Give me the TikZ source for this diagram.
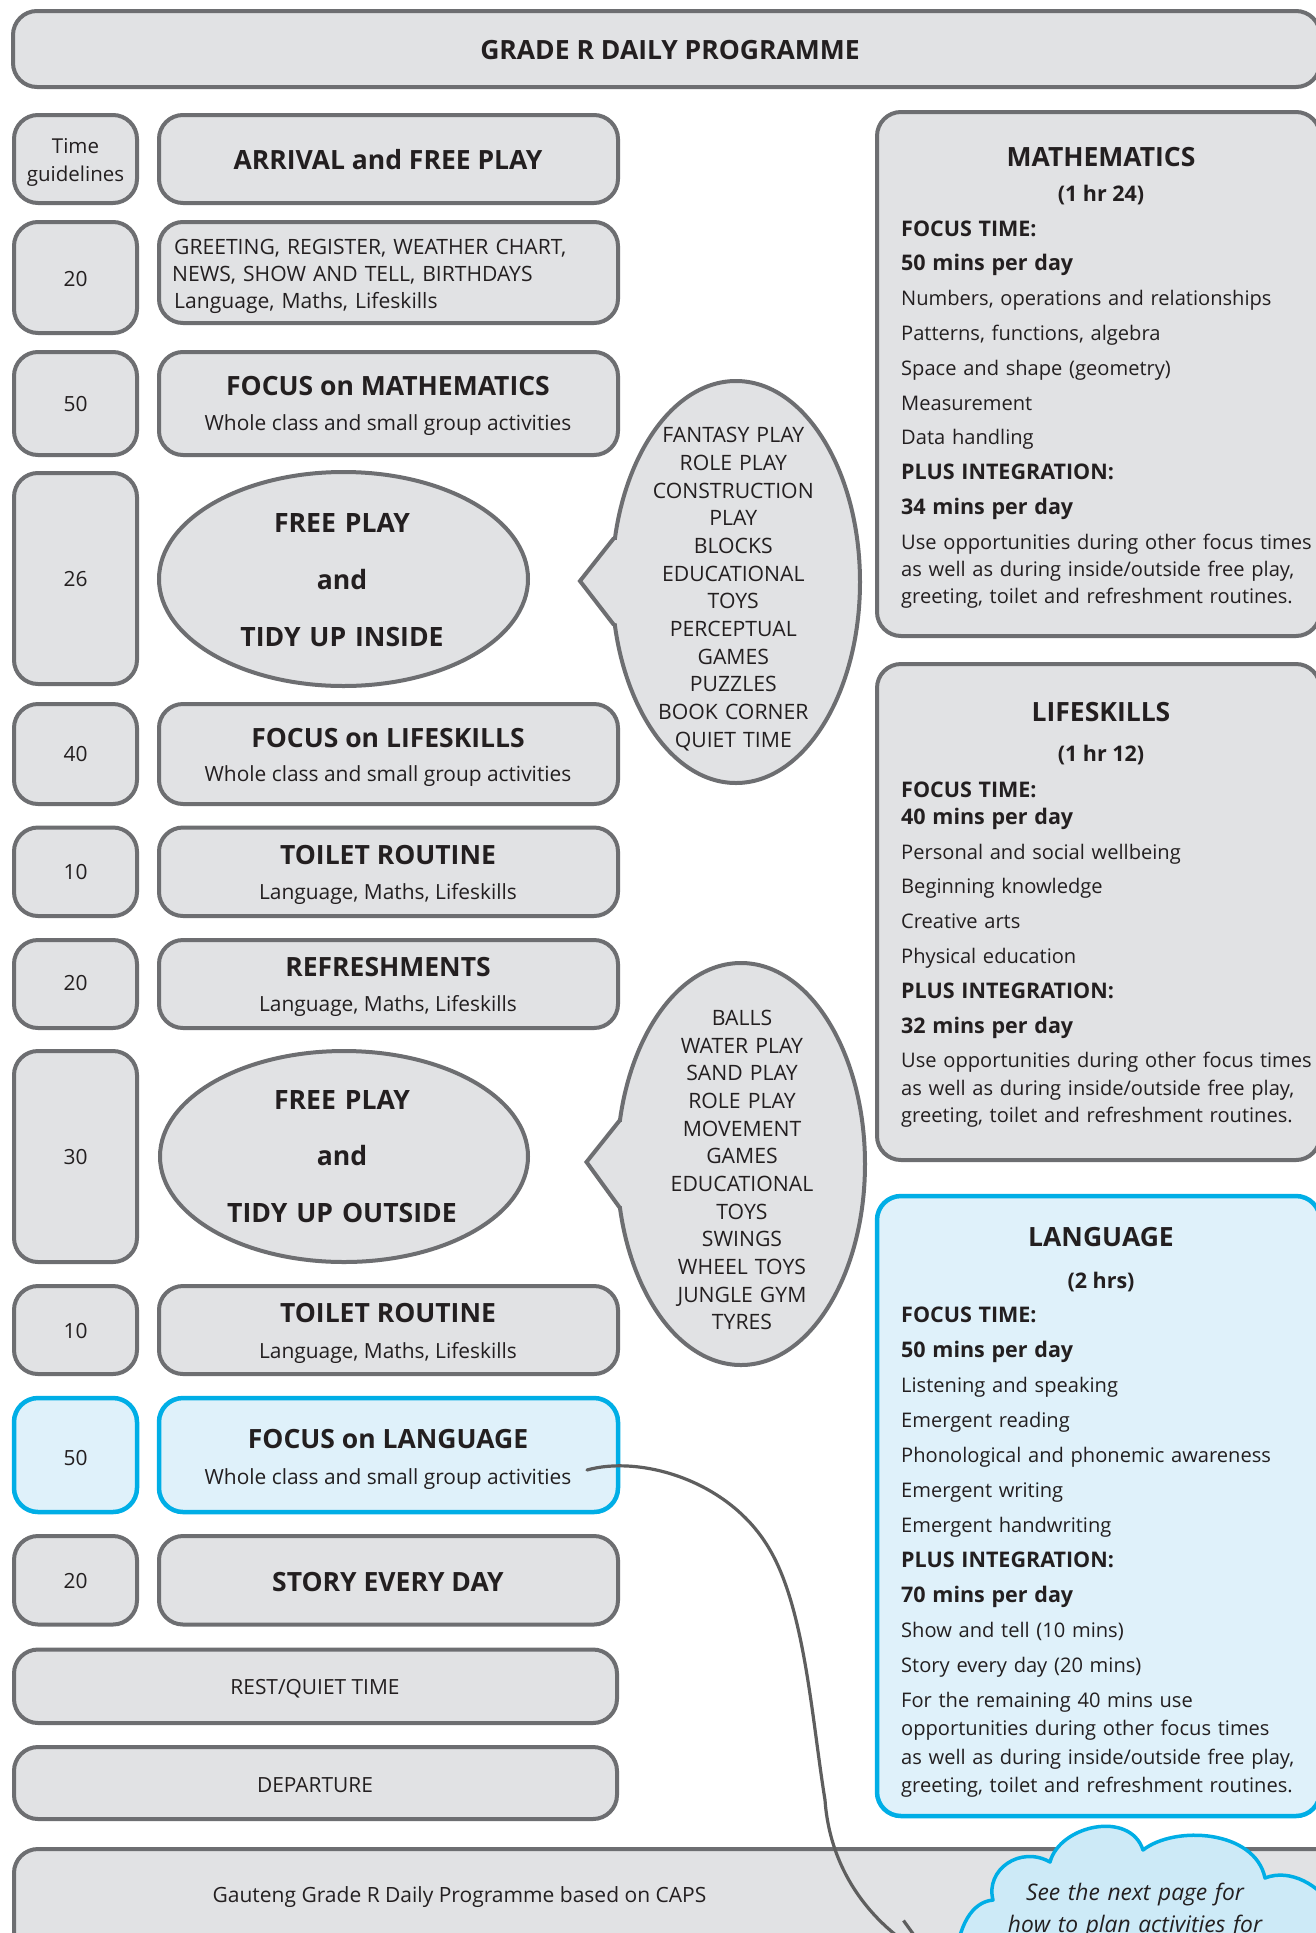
\documentclass[tikz,border=0pt]{standalone}
\usepackage{fontspec}
\setmainfont{Open Sans}
\usetikzlibrary{arrows.meta}
\definecolor{bord}{HTML}{6D6E71}
\definecolor{boxfill}{HTML}{E1E2E4}
\definecolor{ink}{HTML}{231F20}
\definecolor{cyanb}{HTML}{00AEE6}
\definecolor{bluefill}{HTML}{DFF1FA}
\definecolor{cloudfill}{HTML}{CDEAF7}
\definecolor{pencil}{HTML}{5E5E5E}
\newcommand\bh[1]{{\fontsize{21.5}{27.3}\selectfont\bfseries #1}}
\begin{document}
\begin{tikzpicture}[x=1pt,y=-1pt,
  gbox/.style={draw=bord, fill=boxfill, line width=4pt, rounded corners=24pt},
  bbox/.style={draw=cyanb, fill=bluefill, line width=4.5pt, rounded corners=24pt},
  bubble/.style={draw=bord, fill=boxfill, line width=4pt},
  hdtxt/.style={font=\fontsize{26.5}{30}\selectfont\bfseries, text=ink, inner sep=0pt, anchor=base},
  rgtxt/.style={font=\fontsize{20.9}{27}\selectfont, text=ink, inner sep=0pt, anchor=base},
  sbtxt/.style={font=\fontsize{21.5}{26}\selectfont\bfseries, text=ink, inner sep=0pt, anchor=base},
  bodytxt/.style={text=ink, inner sep=0pt, anchor=base west, text width=470pt, align=left},
  listtxt/.style={font=\fontsize{21.2}{27.69}\selectfont, text=ink, inner sep=0pt, anchor=base, text width=240pt, align=center},
  elltxt/.style={font=\fontsize{26.6}{56.8}\selectfont\bfseries, text=ink, inner sep=0pt, anchor=base, text width=340pt, align=center},
]
\useasboundingbox (0,0) rectangle (1316,1933);
\fill[white] (0,0) rectangle (1316,1933);

% title
\draw[gbox] (13,11) rectangle (1320,87);
\node[hdtxt] (title) at (670,59.5) {GRADE R DAILY PROGRAMME};

% row 1
\draw[gbox] (14,115) rectangle (137,203);
\draw[gbox] (159,115) rectangle (618,203);
\node[rgtxt, text width=120pt, align=center, font=\fontsize{20.5}{28.7}\selectfont] (tg) at (75.5,153) {Time\\guidelines};
\node[hdtxt] (arrival) at (388,169) {ARRIVAL and FREE PLAY};

% row 2
\draw[gbox] (14,222) rectangle (137,333);
\draw[gbox] (159,222) rectangle (618,323);
\node[rgtxt] (t2) at (75.5,286.7) {20};
\node[rgtxt, anchor=base west, text width=440pt, align=left, font=\fontsize{21.1}{27}\selectfont] (greet) at (172,254.5) {\hspace*{2pt}GREETING, REGISTER, WEATHER CHART,\\NEWS, SHOW AND TELL, BIRTHDAYS\\\hspace*{2pt}Language, Maths, Lifeskills};

% row 3
\draw[gbox] (14,352) rectangle (137,455);
\draw[gbox] (159,352) rectangle (618,455);
\node[rgtxt] (t3) at (75.5,411.7) {50};
\node[hdtxt] (fmath) at (388,395) {FOCUS on MATHEMATICS};
\node[rgtxt] (fmaths) at (388,430) {Whole class and small group activities};

% row 4
\draw[gbox] (14,473) rectangle (137,684);
\node[rgtxt] (t4) at (75.5,586.5) {26};
\draw[bubble] (343.5,579) ellipse [x radius=184.5pt, y radius=107pt];
\node[elltxt] (inside) at (342,532.7) {FREE PLAY\\and\\TIDY UP INSIDE};

% speech bubble 1
\draw[bubble] (736,582) ellipse [x radius=124pt, y radius=201pt];
\fill[boxfill] (613,540) -- (580,581) -- (613,623) -- (632,623) -- (632,540) -- cycle;
\draw[bord, line width=4pt, line join=miter] (614,538) -- (580,581) -- (614,625);
\node[listtxt] (list1) at (733.3,442.7) {FANTASY PLAY\\ROLE PLAY\\CONSTRUCTION\\PLAY\\BLOCKS\\EDUCATIONAL\\TOYS\\PERCEPTUAL\\GAMES\\PUZZLES\\BOOK CORNER\\QUIET TIME};

% row 5
\draw[gbox] (14,704) rectangle (137,804);
\draw[gbox] (159,704) rectangle (618,804);
\node[rgtxt] (t5) at (75.5,761) {40};
\node[hdtxt] (flife) at (388,747) {FOCUS on LIFESKILLS};
\node[rgtxt] (flifes) at (388,781.5) {Whole class and small group activities};

% row 6
\draw[gbox] (14,827.5) rectangle (137,916);
\draw[gbox] (159,827.5) rectangle (618,916);
\node[rgtxt] (t6) at (75.5,879) {10};
\node[hdtxt] (toil1) at (388,864) {TOILET ROUTINE};
\node[rgtxt] (toil1s) at (388,899) {Language, Maths, Lifeskills};

% row 7
\draw[gbox] (14,940) rectangle (137,1028);
\draw[gbox] (159,940) rectangle (618,1028);
\node[rgtxt] (t7) at (75.5,990) {20};
\node[hdtxt] (refr) at (388,976) {REFRESHMENTS};
\node[rgtxt] (refrs) at (388,1011) {Language, Maths, Lifeskills};

% row 8
\draw[gbox] (14,1051) rectangle (137,1262);
\node[rgtxt] (t8) at (75.5,1164) {30};
\draw[bubble] (344,1156.5) ellipse [x radius=184pt, y radius=105.5pt];
\node[elltxt] (outside) at (342,1109) {FREE PLAY\\and\\TIDY UP OUTSIDE};

% speech bubble 2
\draw[bubble] (741,1164) ellipse [x radius=124pt, y radius=201pt];
\fill[boxfill] (619,1122) -- (586.5,1162) -- (619,1206) -- (638,1206) -- (638,1122) -- cycle;
\draw[bord, line width=4pt, line join=miter] (620,1120) -- (586.5,1162) -- (620,1208);
\node[listtxt] (list2) at (742,1025.3) {BALLS\\WATER PLAY\\SAND PLAY\\ROLE PLAY\\MOVEMENT\\GAMES\\EDUCATIONAL\\TOYS\\SWINGS\\WHEEL TOYS\\JUNGLE GYM\\TYRES};

% row 9
\draw[gbox] (14,1286) rectangle (137,1374);
\draw[gbox] (159,1286) rectangle (618,1374);
\node[rgtxt] (t9) at (75.5,1338) {10};
\node[hdtxt] (toil2) at (388,1322.5) {TOILET ROUTINE};
\node[rgtxt] (toil2s) at (388,1358) {Language, Maths, Lifeskills};

% row 10 (blue)
\draw[bbox] (14,1398) rectangle (137,1512);
\draw[bbox] (159,1398) rectangle (618,1512);
\node[rgtxt] (t10) at (75.5,1465) {50};
\node[hdtxt] (flang) at (388,1448.3) {FOCUS on LANGUAGE};
\node[rgtxt] (flangs) at (388,1484) {Whole class and small group activities};

% row 11
\draw[gbox] (14,1536) rectangle (137,1624.5);
\draw[gbox] (159,1536) rectangle (618,1624.5);
\node[rgtxt] (t11) at (75.5,1588) {20};
\node[hdtxt] (story) at (388,1591) {STORY EVERY DAY};

% rows 12, 13
\draw[gbox] (14,1649.5) rectangle (617,1723);
\node[rgtxt] (rest) at (315,1694.5) {REST/QUIET TIME};
\draw[gbox] (14,1747) rectangle (617,1819);
\node[rgtxt] (dep) at (315,1792.5) {DEPARTURE};

% bottom box
\draw[gbox] (14,1849) rectangle (1340,1990);
\node[rgtxt, font=\fontsize{21}{27}\selectfont] (caps) at (459.5,1902) {Gauteng Grade R Daily Programme based on CAPS};

% right: mathematics
\draw[gbox] (877,112) rectangle (1320,636);
\node[hdtxt] (mathh) at (1101,166.7) {MATHEMATICS};
\node[sbtxt] (mathhr) at (1101,201.7) {(1 hr 24)};
\node[bodytxt, font=\fontsize{20.1}{27.3}\selectfont] (mathbody) at (901,236) {%
\bh{FOCUS TIME:}\\[7.5pt]
\bh{50 mins per day}\\[7.5pt]
Numbers, operations and relationships\\[7.5pt]
Patterns, functions, algebra\\[7.5pt]
Space and shape (geometry)\\[7.5pt]
Measurement\\[7.5pt]
Data handling\\[7.5pt]
\bh{PLUS INTEGRATION:}\\[7.5pt]
\bh{34 mins per day}\\[7.5pt]
Use opportunities during other focus times\\
as well as during inside/outside free play,\\
greeting, toilet and refreshment routines.};

% right: lifeskills
\draw[gbox] (877,664) rectangle (1320,1160);
\node[hdtxt] (lifeh) at (1101,721.6) {LIFESKILLS};
\node[sbtxt] (lifehr) at (1101,761.5) {(1 hr 12)};
\node[bodytxt, font=\fontsize{20.1}{27.3}\selectfont] (lifebody) at (901,797) {%
\bh{FOCUS TIME:}\\
\bh{40 mins per day}\\[7.5pt]
Personal and social wellbeing\\[7.5pt]
Beginning knowledge\\[7.5pt]
Creative arts\\[7.5pt]
Physical education\\[7.5pt]
\bh{PLUS INTEGRATION:}\\[7.5pt]
\bh{32 mins per day}\\[7.5pt]
Use opportunities during other focus times\\
as well as during inside/outside free play,\\
greeting, toilet and refreshment routines.};

% right: language
\draw[bbox] (877,1196) rectangle (1320,1816);
\node[hdtxt] (langh) at (1101,1246) {LANGUAGE};
\node[sbtxt] (langhr) at (1101,1288.4) {(2 hrs)};
\node[bodytxt, font=\fontsize{20.1}{28.2}\selectfont] (langbody) at (901,1322.6) {%
\bh{FOCUS TIME:}\\[6.8pt]
\bh{50 mins per day}\\[6.8pt]
Listening and speaking\\[6.8pt]
Emergent reading\\[6.8pt]
Phonological and phonemic awareness\\[6.8pt]
Emergent writing\\[6.8pt]
Emergent handwriting\\[6.8pt]
\bh{PLUS INTEGRATION:}\\[6.8pt]
\bh{70 mins per day}\\[6.8pt]
Show and tell (10 mins)\\[6.8pt]
Story every day (20 mins)\\[6.8pt]
For the remaining 40 mins use\\
opportunities during other focus times\\
as well as during inside/outside free play,\\
greeting, toilet and refreshment routines.};

% pencil arrow
\coordinate (arrowstart) at (587,1470);
\coordinate (arrowend) at (934,1960);
\draw[pencil, line width=3.2pt, line cap=round, -{Straight Barb[length=42pt,width=40pt]}]
  (arrowstart) .. controls (640,1455) and (730,1480) .. (770,1550)
  .. controls (805,1610) and (812,1720) .. (825,1800)
  .. controls (830,1870) and (870,1925) .. (arrowend);

% cloud
\draw[draw=cyanb, fill=cloudfill, line width=3.5pt, line join=round]
  (955,1965) .. controls (958,1925) and (972,1902) .. (993,1900)
  .. controls (985,1870) and (1020,1845) .. (1050,1862)
  .. controls (1060,1825) and (1130,1810) .. (1143,1850)
  .. controls (1175,1825) and (1255,1830) .. (1265,1878)
  .. controls (1290,1868) and (1320,1885) .. (1335,1910)
  -- (1335,1965) -- cycle;
\node[rgtxt, font=\fontsize{22.8}{32}\selectfont\itshape, text width=320pt, align=center] (cloudtxt) at (1135,1900) {See the next page for\\how to plan activities for};
\end{tikzpicture}
\end{document}
